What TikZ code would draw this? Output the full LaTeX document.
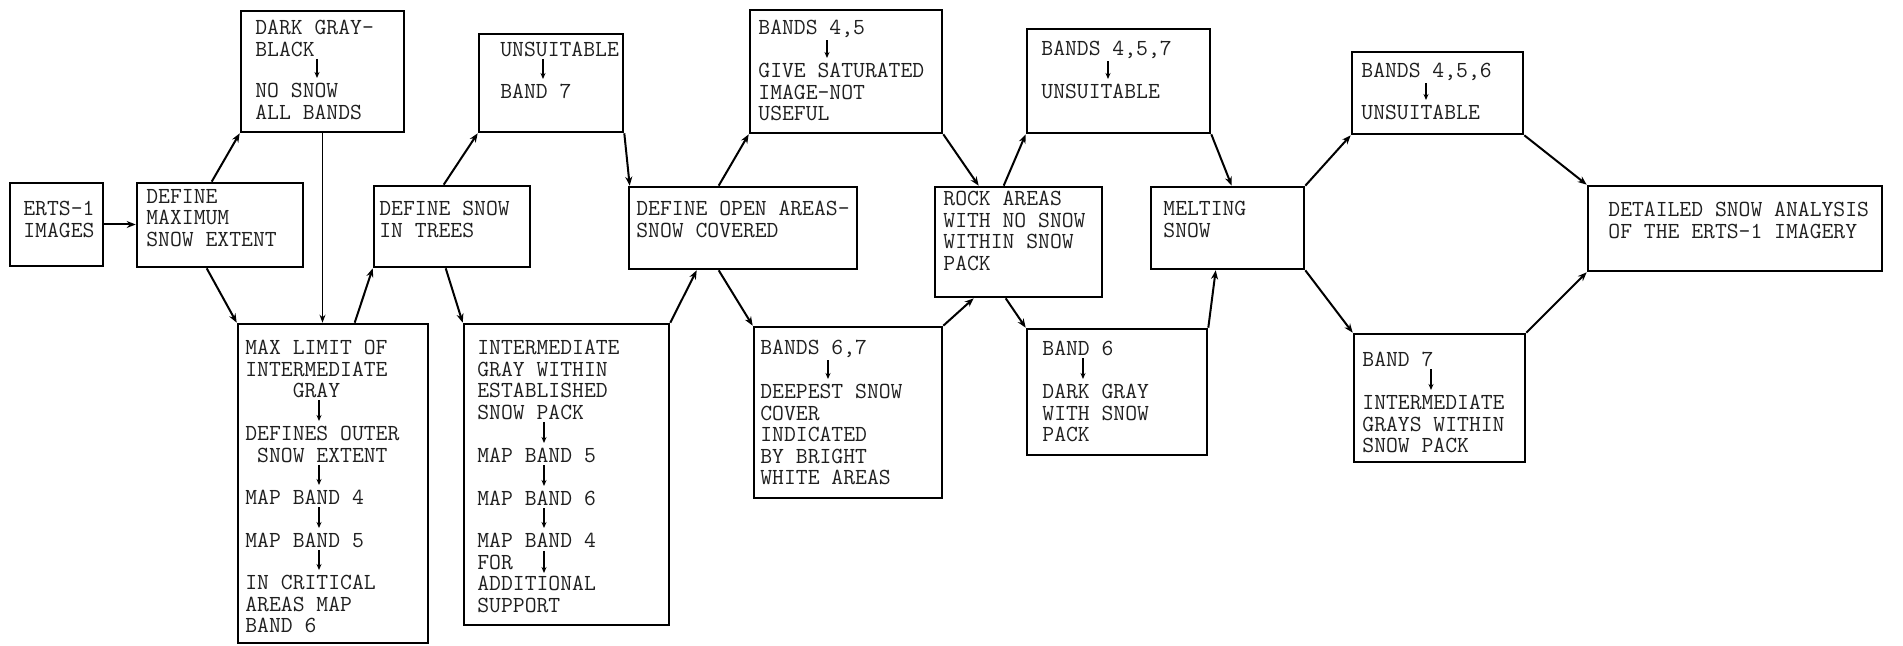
\documentclass[tikz,border=0pt]{standalone}
\usepackage{fontspec}
\usetikzlibrary{arrows.meta,calc,fit}
\tikzset{
  box/.style={draw, line width=1.3pt, inner sep=0pt},
  txt/.style={anchor=north west, inner sep=0pt, align=left,
    font=\ttfamily\fontsize{11.5}{10.75}\selectfont, text=black!88},
  conn/.style={line width=1pt, -{Stealth[length=4.5pt,width=3.5pt]}},
  thinconn/.style={line width=0.6pt, -{Stealth[length=4pt,width=3pt]}},
  inarrow/.style={line width=0.6pt, -{Stealth[length=3pt,width=2.5pt]}},
}
\newcommand\inarr[3]{\draw[inarrow] ($(#1.south west)+(#3,2)$) -- ($(#2.north west)+(#3,-5)$);}
\begin{document}
\begin{tikzpicture}[x=0.5pt,y=-0.5pt]
\useasboundingbox (0,0) rectangle (1903,646);
% boxes
\node[box, fit={(10,183) (103,266)}] (erts) {};
\node[box, fit={(137,183) (303,267)}] (defmax) {};
\node[box, fit={(241,11) (404,132)}] (dark) {};
\node[box, fit={(238,324) (428,643)}] (maxlim) {};
\node[box, fit={(374,186) (530,267)}] (trees) {};
\node[box, fit={(479,34) (623,132)}] (unsuit) {};
\node[box, fit={(464,324) (669,625)}] (intgray) {};
\node[box, fit={(629,187) (857,269)}] (openar) {};
\node[box, fit={(750,10) (942,133)}] (b45) {};
\node[box, fit={(754,327) (942,498)}] (b67) {};
\node[box, fit={(935,187) (1102,297)}] (rock) {};
\node[box, fit={(1027,29) (1210,133)}] (b457) {};
\node[box, fit={(1027,329) (1207,455)}] (b6) {};
\node[box, fit={(1151,187) (1304,269)}] (melt) {};
\node[box, fit={(1352,52) (1523,134)}] (b456) {};
\node[box, fit={(1354,334) (1525,462)}] (b7) {};
\node[box, fit={(1588,186) (1882,271)}] (detail) {};
% texts
\node[txt] (erts-t) at (23,201) {ERTS-1\\IMAGES};
\node[txt] (defmax-t) at (146,189) {DEFINE\\MAXIMUM\\SNOW EXTENT};
\node[txt] (dark-a) at (255,20) {DARK GRAY-\\BLACK};
\node[txt] (dark-b) at (255,83) {NO SNOW\\ALL BANDS};
\inarr{dark-a}{dark-b}{62}
\node[txt] (maxlim-a) at (245,340) {MAX LIMIT OF\\INTERMEDIATE\\~~~~GRAY};
\node[txt] (maxlim-b) at (245,426) {DEFINES OUTER\\~SNOW EXTENT};
\node[txt] (maxlim-c) at (245,490) {MAP BAND 4};
\node[txt] (maxlim-d) at (245,533) {MAP BAND 5};
\node[txt] (maxlim-e) at (245,575) {IN CRITICAL\\AREAS MAP\\BAND 6};
\inarr{maxlim-a}{maxlim-b}{74}
\inarr{maxlim-b}{maxlim-c}{74}
\inarr{maxlim-c}{maxlim-d}{74}
\inarr{maxlim-d}{maxlim-e}{74}
\node[txt] (trees-t) at (379,201) {DEFINE SNOW\\IN TREES};
\node[txt] (unsuit-a) at (500,42) {UNSUITABLE};
\node[txt] (unsuit-b) at (500,84) {BAND 7};
\inarr{unsuit-a}{unsuit-b}{43}
\node[txt] (intgray-a) at (477,340) {INTERMEDIATE\\GRAY WITHIN\\ESTABLISHED\\SNOW PACK};
\node[txt] (intgray-b) at (477,448) {MAP BAND 5};
\node[txt] (intgray-c) at (477,491) {MAP BAND 6};
\node[txt] (intgray-d) at (477,533) {MAP BAND 4\\FOR\\ADDITIONAL\\SUPPORT};
\inarr{intgray-a}{intgray-b}{67}
\inarr{intgray-b}{intgray-c}{67}
\inarr{intgray-c}{intgray-d}{67}
\draw[inarrow] ($(intgray-d.north west)+(67,18)$) -- ($(intgray-d.north west)+(67,40)$);
\node[txt] (openar-t) at (636,201) {DEFINE OPEN AREAS-\\SNOW COVERED};
\node[txt] (b45-a) at (758,20) {BANDS 4,5};
\node[txt] (b45-b) at (758,63) {GIVE SATURATED\\IMAGE-NOT\\USEFUL};
\inarr{b45-a}{b45-b}{69}
\node[txt] (b67-a) at (760,340) {BANDS 6,7};
\node[txt] (b67-b) at (760,384) {DEEPEST SNOW\\COVER\\INDICATED\\BY BRIGHT\\WHITE AREAS};
\inarr{b67-a}{b67-b}{68}
\node[txt] (rock-t) at (943,191) {ROCK AREAS\\WITH NO SNOW\\WITHIN SNOW\\PACK};
\node[txt] (b457-a) at (1041,41) {BANDS 4,5,7};
\node[txt] (b457-b) at (1041,84) {UNSUITABLE};
\inarr{b457-a}{b457-b}{67}
\node[txt] (b6-a) at (1042,341) {BAND 6};
\node[txt] (b6-b) at (1042,384) {DARK GRAY\\WITH SNOW\\PACK};
\inarr{b6-a}{b6-b}{41}
\node[txt] (melt-t) at (1163,201) {MELTING\\SNOW};
\node[txt] (b456-a) at (1361,63) {BANDS 4,5,6};
\node[txt] (b456-b) at (1361,105) {UNSUITABLE};
\inarr{b456-a}{b456-b}{65}
\node[txt] (b7-a) at (1362,352) {BAND 7};
\node[txt] (b7-b) at (1362,395) {INTERMEDIATE\\GRAYS WITHIN\\SNOW PACK};
\inarr{b7-a}{b7-b}{69}
\node[txt] (detail-t) at (1608,202) {DETAILED SNOW ANALYSIS\\OF THE ERTS-1 IMAGERY};
% connectors
\draw[conn] (erts.east) -- (erts.east -| defmax.west);
\draw[conn] ($(defmax.north west)+(76,0)$) -- (dark.south west);
\draw[conn] ($(defmax.south west)+(71,0)$) -- (maxlim.north west);
\draw[thinconn] (dark.south) -- (dark.south |- maxlim.north);
\draw[conn] ($(maxlim.north west)+(118,0)$) -- (trees.south west);
\draw[conn] ($(trees.north west)+(71,0)$) -- (unsuit.south west);
\draw[conn] ($(trees.south west)+(73,0)$) -- (intgray.north west);
\draw[conn] (unsuit.south east) -- ($(openar.north west)+(2,0)$);
\draw[conn] (intgray.north east) -- ($(openar.south west)+(69,0)$);
\draw[conn] ($(openar.north west)+(91,0)$) -- (b45.south west);
\draw[conn] ($(openar.south west)+(91,0)$) -- (b67.north west);
\draw[conn] (b45.south east) -- ($(rock.north west)+(45,0)$);
\draw[conn] ($(rock.north west)+(70,0)$) -- (b457.south west);
\draw[conn] (b67.north east) -- ($(rock.south west)+(40,0)$);
\draw[conn] ($(rock.south west)+(72,0)$) -- (b6.north west);
\draw[conn] (b457.south east) -- ($(melt.north west)+(82,0)$);
\draw[conn] (b6.north east) -- ($(melt.south west)+(66,0)$);
\draw[conn] (melt.north east) -- (b456.south west);
\draw[conn] (melt.south east) -- (b7.north west);
\draw[conn] (b456.south east) -- (detail.north west);
\draw[conn] (b7.north east) -- (detail.south west);
\end{tikzpicture}
\end{document}
